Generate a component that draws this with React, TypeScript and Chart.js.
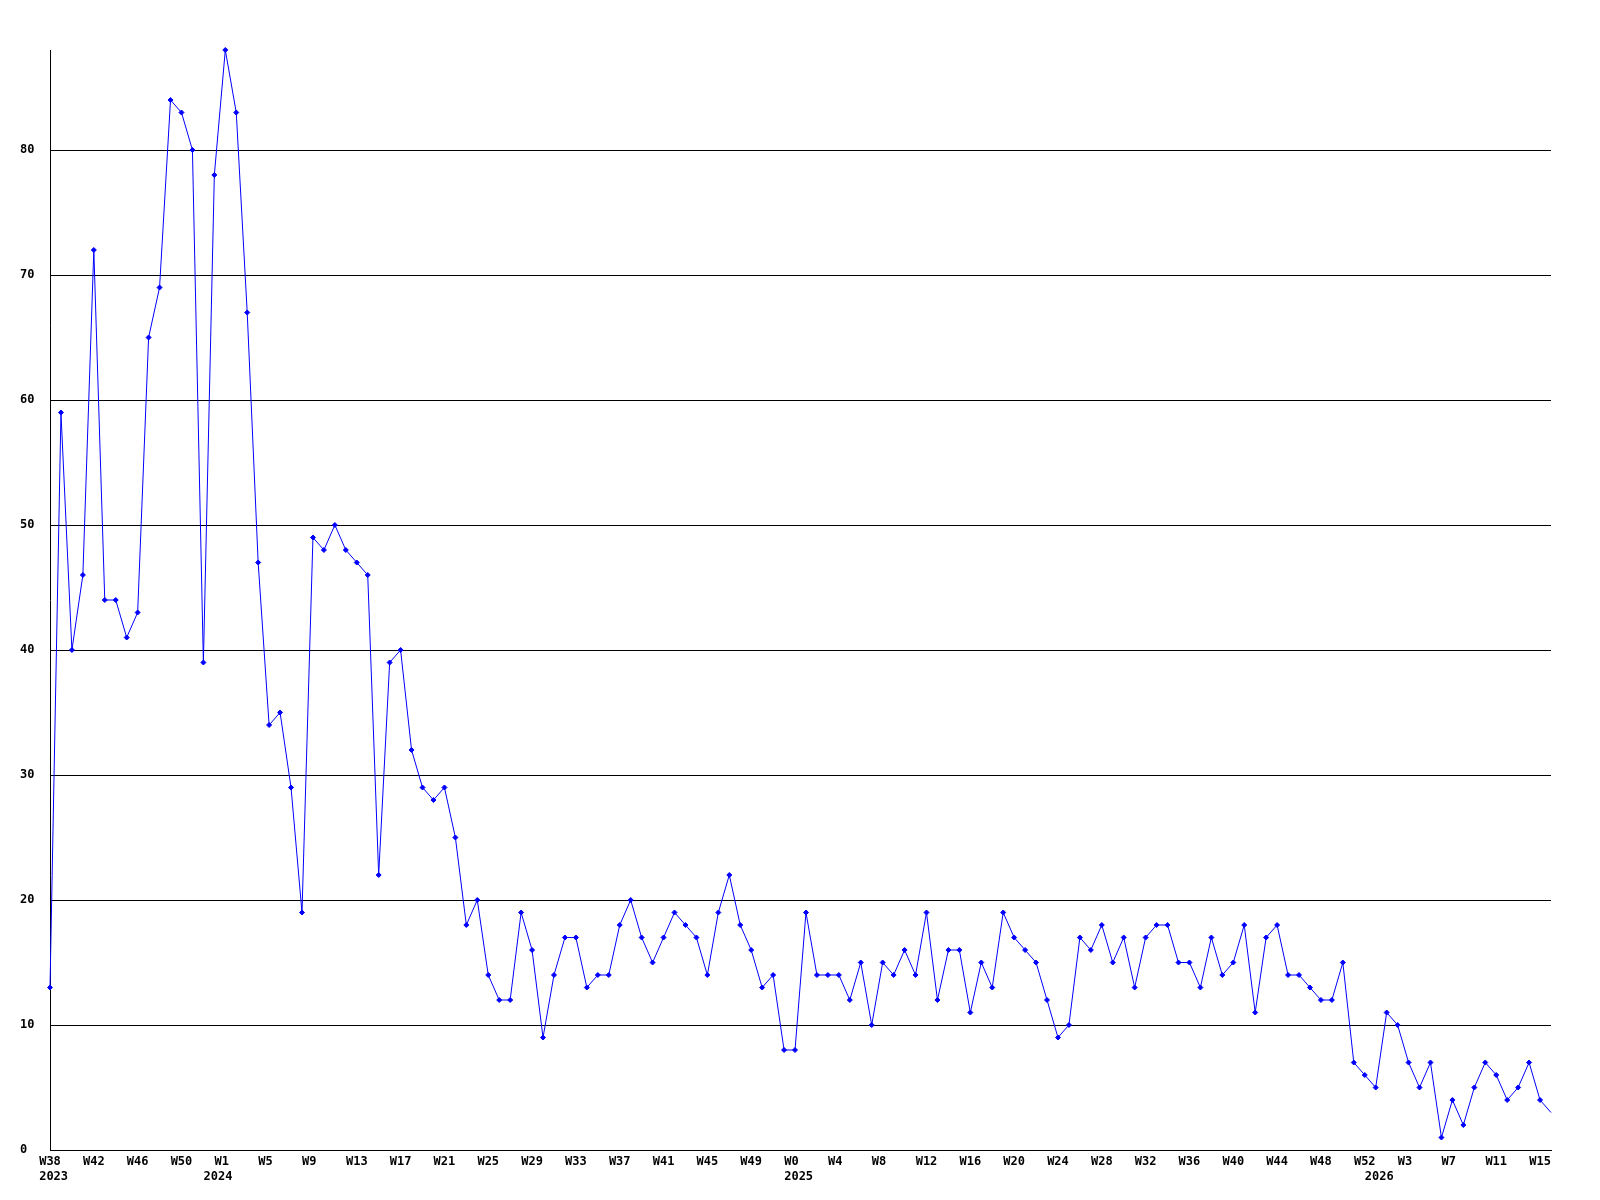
import React, { useEffect, useRef } from "react";
import { Chart, registerables } from "chart.js";

Chart.register(...registerables);

// Week categories per year (the weeks that have a point)
const weeks2023 = ["W38", "W39", "W40", "W41", "W42", "W43", "W44", "W45", "W46", "W47", "W48", "W49", "W50", "W51", "W52"];
const weeks2024 = ["W0", "W1", "W2", "W3", "W4", "W5", "W6", "W7", "W8", "W9", "W10", "W11", "W12", "W13", "W14", "W15", "W16", "W17", "W18", "W19", "W20", "W21", "W22", "W23", "W24", "W25", "W26", "W27", "W28", "W29", "W30", "W31", "W32", "W33", "W34", "W35", "W36", "W37", "W38", "W39", "W40", "W41", "W42", "W43", "W44", "W45", "W46", "W47", "W48", "W49", "W50", "W51", "W52"];
const weeks2025 = ["W0", "W1", "W2", "W3", "W4", "W5", "W6", "W7", "W8", "W9", "W10", "W11", "W12", "W13", "W14", "W15", "W16", "W17", "W18", "W19", "W20", "W21", "W22", "W23", "W24", "W25", "W26", "W27", "W28", "W29", "W30", "W31", "W32", "W33", "W34", "W35", "W36", "W37", "W38", "W39", "W40", "W41", "W42", "W43", "W44", "W45", "W46", "W47", "W48", "W49", "W50", "W51", "W52"];
const weeks2026 = ["W0", "W1", "W2", "W3", "W4", "W5", "W6", "W7", "W8", "W9", "W10", "W11", "W12", "W13", "W14", "W15", "W16"];
const years = ["2023", "2024", "2025", "2026"];

// Weekly values
const values2023 = [13, 59, 40, 46, 72, 44, 44, 41, 43, 65, 69, 84, 83, 80, 39];
const values2024 = [78, 88, 83, 67, 47, 34, 35, 29, 19, 49, 48, 50, 48, 47, 46, 22, 39, 40, 32, 29, 28, 29, 25, 18, 20, 14, 12, 12, 19, 16, 9, 14, 17, 17, 13, 14, 14, 18, 20, 17, 15, 17, 19, 18, 17, 14, 19, 22, 18, 16, 13, 14, 8];
const values2025 = [8, 19, 14, 14, 14, 12, 15, 10, 15, 14, 16, 14, 19, 12, 16, 16, 11, 15, 13, 19, 17, 16, 15, 12, 9, 10, 17, 16, 18, 15, 17, 13, 17, 18, 18, 15, 15, 13, 17, 14, 15, 18, 11, 17, 18, 14, 14, 13, 12, 12, 15, 7, 6];
const values2026 = [5, 11, 10, 7, 5, 7, 1, 4, 2, 5, 7, 6, 4, 5, 7, 4, 3];

// Axis ticks
const yTicks = [0, 10, 20, 30, 40, 50, 60, 70, 80];
const yMax = 88;
const labelEvery = 4;

const weekGroups = [weeks2023, weeks2024, weeks2025, weeks2026];
const valueGroups = [values2023, values2024, values2025, values2026];

const weekOf: string[] = [];
const yearOf: string[] = [];
const yearStart: boolean[] = [];
weekGroups.forEach((g, gi) => {
  g.forEach((w, wi) => {
    weekOf.push(w);
    yearOf.push(years[gi]);
    yearStart.push(wi === 0);
  });
});
const categories = weekOf.map((w, i) => `${yearOf[i]} ${w}`);
const values: number[] = ([] as number[]).concat(...valueGroups);

const FONT = { family: "'DejaVu Sans Mono', monospace", size: 12, weight: "bold" as const, lineHeight: 1.2 };

export default function App() {
  const ref = useRef<HTMLCanvasElement | null>(null);

  useEffect(() => {
    if (!ref.current) return;
    const chart = new Chart(ref.current, {
      type: "line",
      data: {
        labels: categories,
        datasets: [
          {
            data: values,
            borderColor: "#0000ff",
            backgroundColor: "#0000ff",
            borderWidth: 1,
            tension: 0,
            fill: false,
            pointStyle: "rectRot",
            pointRadius: (ctx: any) => (ctx.dataIndex === values.length - 1 ? 0 : 2.5),
            pointBorderWidth: 1,
            pointBorderColor: "#0000ff",
            pointBackgroundColor: "#0000ff",
            clip: false,
          },
        ],
      },
      options: {
        responsive: false,
        animation: false,
        layout: { padding: { left: 12, top: 42, right: 41, bottom: 0 } },
        plugins: {
          legend: { display: false },
          tooltip: { enabled: false },
          title: { display: false },
        },
        scales: {
          x: {
            type: "category",
            offset: false,
            grid: { display: false, drawTicks: false },
            border: { display: true, color: "#000000", width: 1 },
            afterFit: (scale: any) => {
              scale.height = 42;
            },
            ticks: {
              autoSkip: false,
              maxRotation: 0,
              minRotation: 0,
              padding: 5,
              color: "#000000",
              font: FONT,
              callback: (_v: any, i: number) => {
                const showWeek = i % labelEvery === 0;
                const showYear = yearStart[i];
                if (!showWeek && !showYear) return "";
                let w = showWeek ? weekOf[i] : "";
                if (showWeek) {
                  while (w.length < 3) w = w + " ";
                }
                if (showYear) return [w, " " + yearOf[i]];
                return w;
              },
            },
          },
          y: {
            min: 0,
            max: yMax,
            afterBuildTicks: (scale: any) => {
              scale.ticks = yTicks.map((v) => ({ value: v }));
            },
            afterFit: (scale: any) => {
              scale.width = 30;
            },
            grid: { color: "#000000", lineWidth: 1, drawTicks: false },
            border: { display: true, color: "#000000", width: 1 },
            ticks: {
              crossAlign: "far",
              padding: 0,
              color: "#000000",
              font: FONT,
            },
          },
        },
      },
    });
    return () => chart.destroy();
  }, []);

  return (
    <div style={{ width: 1584, height: 1184 }}>
      <canvas ref={ref} width={1584} height={1184} style={{ display: "block" }} />
    </div>
  );
}
